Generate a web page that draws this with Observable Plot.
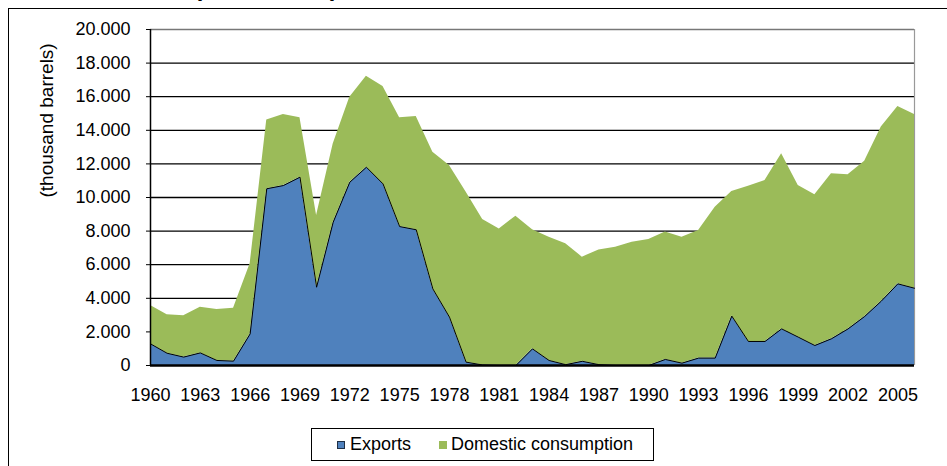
<!DOCTYPE html>
<html>
<head>
<meta charset="utf-8">
<script src="https://cdn.jsdelivr.net/npm/d3@7"></script>
<script src="https://cdn.jsdelivr.net/npm/@observablehq/plot@0.6"></script>
<style>
  html, body { margin: 0; padding: 0; background: #fff; overflow: hidden; width: 947px; height: 466px; }
  body { position: relative; font-family: "Liberation Sans", Arial, sans-serif; }
  #frame { position: absolute; left: 8px; top: 8px; width: 1000px; height: 520px; border: 1.5px solid #000; box-sizing: border-box; }
  #title { position: absolute; left: 166px; width: 200px; top: -24px; line-height: 24px; font-size: 24px; font-weight: bold; text-align: center; white-space: nowrap; }
  #chart { position: absolute; left: 0; top: 0; }
  #legend { position: absolute; left: 311px; top: 428px; width: 343px; height: 33px; border: 1px solid #000; box-sizing: border-box; background: #fff; font-size: 18px; line-height: 31px; color: #000; display: flex; align-items: center; white-space: nowrap; }
  .sw { display: inline-block; width: 8px; height: 8px; box-sizing: border-box; }
</style>
</head>
<body>
<div id="frame"></div>
<div id="title">(1960 - 2006)</div>
<div id="chart"></div>
<div id="legend">
  <span class="sw" style="margin-left:25px;background:#4F81BD;border:1px solid #1f2f45"></span>
  <span style="margin-left:5px">Exports</span>
  <span class="sw" style="margin-left:28px;background:#9BBB59"></span>
  <span style="margin-left:4px">Domestic consumption</span>
</div>
<script>
const years = [1960,1961,1962,1963,1964,1965,1966,1967,1968,1969,
  1970,1971,1972,1973,1974,1975,1976,1977,1978,1979,
  1980,1981,1982,1983,1984,1985,1986,1987,1988,1989,
  1990,1991,1992,1993,1994,1995,1996,1997,1998,1999,
  2000,2001,2002,2003,2004,2005,2006];
const exportsVals = [1290,730,500,750,300,260,1880,10520,10710,11210,
  4660,8530,10910,11800,10810,8270,8080,4560,2880,200,
  30,0,0,990,300,50,250,50,0,0,
  0,360,140,440,440,2940,1430,1430,2180,1690,
  1190,1590,2180,2920,3830,4860,4600];
const domesticVals = [2280,2290,2460,2720,3030,3150,4170,4100,4230,3530,
  4270,4660,5060,5420,5800,6470,6740,8140,9020,10120,
  8660,8130,8890,7090,7340,7190,6200,6830,7040,7340,
  7500,7580,7500,7600,8980,7420,9240,9580,10420,9020,
  8970,9820,9170,9240,10360,10560,10340];
const seriesNames = ["Exports", "Domestic consumption"];
const seriesColors = ["#4F81BD", "#9BBB59"];
const xTickYears = [1960,1963,1966,1969,1972,1975,1978,1981,1984,1987,1990,1993,1996,1999,2002,2005];
const yTicks = [0,2000,4000,6000,8000,10000,12000,14000,16000,18000,20000];
const yLabel = "(thousand barrels)";

const exportRows = years.map((y, i) => ({year: y, value: exportsVals[i], series: seriesNames[0]}));
const domesticRows = years.map((y, i) => ({year: y, value: domesticVals[i], series: seriesNames[1]}));
const rows = exportRows.concat(domesticRows);

const fmt = d3.formatLocale({decimal: ",", thousands: ".", grouping: [3], currency: ["", ""]}).format(",");

const chart = Plot.plot({
  width: 947,
  height: 420,
  marginLeft: 150,
  marginRight: 33,
  marginTop: 29,
  marginBottom: 55,
  style: {fontFamily: '"Liberation Sans", Arial, sans-serif', fontSize: "18px", color: "#000", background: "transparent"},
  x: {type: "linear", domain: [1960, 2006]},
  y: {domain: [0, 20000]},
  color: {domain: seriesNames, range: seriesColors},
  marks: [
    Plot.ruleY(yTicks.filter(d => d > 0 && d < 20000), {stroke: "#000", strokeWidth: 1.3}),
    Plot.ruleY([20000], {stroke: "#777", strokeWidth: 1.3}),
    Plot.ruleX([2006], {stroke: "#999", strokeWidth: 1.2}),
    Plot.areaY(rows, {x: "year", y: "value", fill: "series", z: "series"}),
    Plot.lineY(exportRows, {x: "year", y: "value", stroke: "#000", strokeWidth: 1}),
    Plot.ruleX([1960], {stroke: "#000", strokeWidth: 1.5}),
    Plot.ruleY([0], {stroke: "#000", strokeWidth: 2.5}),
    Plot.axisY({ticks: yTicks, tickFormat: fmt, tickSize: 4, tickPadding: 16, fontSize: 18, label: null, stroke: "#000"}),
    Plot.axisX({ticks: xTickYears, tickFormat: d => String(d), tickSize: 0, tickPadding: 23, fontSize: 18, label: null}),
    Plot.text([yLabel], {frameAnchor: "left", rotate: -90, dx: -104, fontSize: 19, fill: "#000"})
  ]
});
document.getElementById("chart").appendChild(chart);
</script>
</body>
</html>
